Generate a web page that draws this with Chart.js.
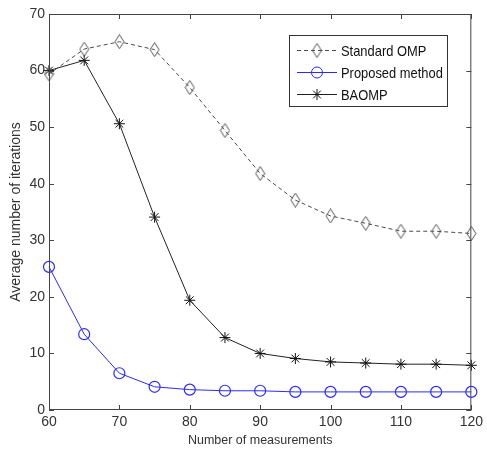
<!DOCTYPE html>
<html><head><meta charset="utf-8">
<script src="https://cdn.jsdelivr.net/npm/chart.js@4"></script>
<style>html,body{margin:0;padding:0;background:#fff}#c{display:block}</style>
</head><body>
<canvas id="c" width="487" height="455"></canvas>
<script>
const measurements = [60,65,70,75,80,85,90,95,100,105,110,115,120];
const standardOMP = [59.4,63.8,65.1,63.7,57.0,49.4,41.8,37.1,34.3,33.0,31.6,31.6,31.2];
const proposedMethod = [25.3,13.4,6.5,4.1,3.6,3.4,3.4,3.2,3.2,3.2,3.2,3.2,3.2];
const baomp = [60.0,61.8,50.6,34.1,19.4,12.8,10.0,9.1,8.5,8.3,8.1,8.1,7.9];
const xTicks = [60,70,80,90,100,110,120];
const yTicks = [0,10,20,30,40,50,60,70];
const seriesNames = ['Standard OMP','Proposed method','BAOMP'];

const textColor = '#333';
const axisColor = '#444';
const sans = "'Liberation Sans', Arial, sans-serif";
const tickFont = {family: sans, size: 14};
const xTitleFont = {family: sans, size: 12.5};
const yTitleFont = {family: sans, size: 14};

function pts(arr){ return measurements.map((x,i)=>({x:x,y:arr[i]})); }

const diamond = document.createElement('canvas');
diamond.width = 11; diamond.height = 15;
(function(){const g=diamond.getContext('2d');g.strokeStyle='#555';g.lineWidth=1;
  g.beginPath();g.moveTo(5.5,0.5);g.lineTo(10,7.5);g.lineTo(5.5,14.5);g.lineTo(1,7.5);g.closePath();g.stroke();})();

const inward = {
  id:'inward',
  afterDraw(chart){
    const {ctx, chartArea:a, scales:{x,y}} = chart;
    ctx.save();
    ctx.strokeStyle = axisColor; ctx.lineWidth = 1;
    ctx.strokeRect(a.left+0.5, a.top+0.5, a.right-a.left-1, a.bottom-a.top-1);
    ctx.beginPath();
    xTicks.forEach(v=>{const px=Math.round(x.getPixelForValue(v))+0.5;
      ctx.moveTo(px,a.bottom); ctx.lineTo(px,a.bottom-5);
      ctx.moveTo(px,a.top); ctx.lineTo(px,a.top+5);});
    yTicks.forEach(v=>{const py=Math.round(y.getPixelForValue(v))+0.5;
      ctx.moveTo(a.left,py); ctx.lineTo(a.left+5,py);
      ctx.moveTo(a.right,py); ctx.lineTo(a.right-5,py);});
    ctx.stroke();
    // legend
    const L=289.5, T=35.5, W=158, H=71;
    ctx.fillStyle='#fff'; ctx.fillRect(L,T,W,H);
    ctx.strokeStyle='#333'; ctx.strokeRect(L,T,W,H);
    const rows=[50,72,94];
    chart.data.datasets.forEach((ds,i)=>{
      const yy=rows[i]+0.5;
      ctx.save();
      ctx.strokeStyle=ds.borderColor; ctx.lineWidth=1;
      ctx.setLineDash(ds.borderDash||[]);
      ctx.beginPath(); ctx.moveTo(297,yy); ctx.lineTo(337,yy); ctx.stroke();
      ctx.setLineDash([]);
      ctx.strokeStyle=ds.pointBorderColor; ctx.fillStyle=ds.pointBackgroundColor;
      Chart.helpers.drawPoint(ctx,{pointStyle:ds.pointStyle,radius:ds.pointRadius,rotation:0,borderWidth:1},317,yy);
      ctx.restore();
      ctx.save();
      ctx.translate(341,yy+1); ctx.scale(0.86,1);
      ctx.fillStyle='#111'; ctx.font='15px '+sans;
      ctx.textBaseline='middle'; ctx.textAlign='left';
      ctx.fillText(seriesNames[i],0,0);
      ctx.restore();
    });
    ctx.restore();
  }
};

new Chart(document.getElementById('c'),{
  type:'line',
  data:{datasets:[
    {label:seriesNames[0],data:pts(standardOMP),borderColor:'#4a4a4a',borderWidth:1,borderDash:[4,3],
     pointStyle:diamond,pointRadius:6,pointBorderColor:'#555',pointBackgroundColor:'rgba(0,0,0,0)',pointBorderWidth:1,clip:false},
    {label:seriesNames[1],data:pts(proposedMethod),borderColor:'#2b2bff',borderWidth:1,
     pointStyle:'circle',pointRadius:5.5,pointBorderColor:'#2b2bff',pointBackgroundColor:'rgba(0,0,0,0)',pointBorderWidth:1.2,clip:false},
    {label:seriesNames[2],data:pts(baomp),borderColor:'#222',borderWidth:1,
     pointStyle:'star',pointRadius:5.5,pointBorderColor:'#111',pointBackgroundColor:'#111',pointBorderWidth:1,clip:false}
  ]},
  options:{
    responsive:false, animation:false, devicePixelRatio:1,
    layout:{padding:{top:14,right:10,left:0,bottom:0}},
    plugins:{legend:{display:false},tooltip:{enabled:false}},
    elements:{line:{tension:0}},
    scales:{
      x:{type:'linear',min:60,max:120,
        afterBuildTicks:s=>{s.ticks=xTicks.map(v=>({value:v}));},
        afterFit:s=>{s.height=45;},
        grid:{display:false,drawTicks:false},border:{display:false},
        ticks:{color:textColor,font:tickFont,padding:4,maxRotation:0},
        title:{display:true,text:'Number of measurements',color:textColor,font:xTitleFont,padding:{top:0,bottom:7}}},
      y:{type:'linear',min:0,max:70,
        afterBuildTicks:s=>{s.ticks=yTicks.map(v=>({value:v}));},
        afterFit:s=>{s.width=49;},
        grid:{display:false,drawTicks:false},border:{display:false},
        ticks:{color:textColor,font:tickFont,padding:4},
        title:{display:true,text:'Average number of iterations',color:textColor,font:yTitleFont,padding:{top:8,bottom:0}}}
    }
  },
  plugins:[inward]
});
</script>
</body></html>
